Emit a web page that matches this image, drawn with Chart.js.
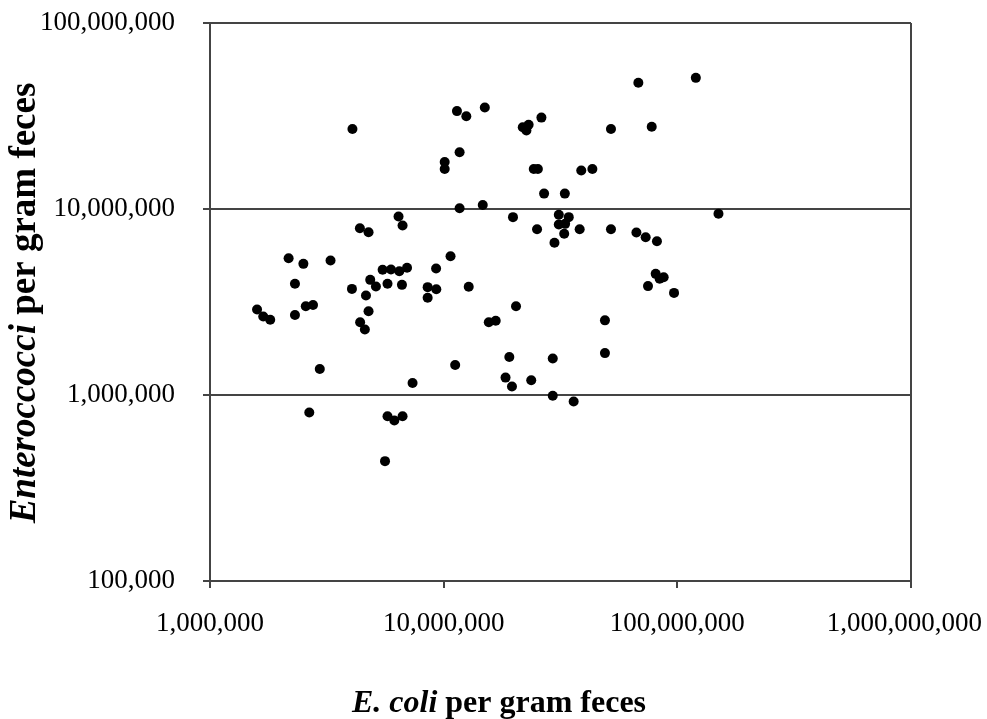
<!DOCTYPE html>
<html>
<head>
<meta charset="utf-8">
<script src="https://cdn.jsdelivr.net/npm/chart.js@4.4.0/dist/chart.umd.min.js"></script>
<style>
  html, body { margin: 0; padding: 0; background: #fff; }
  #wrap { width: 987px; height: 719px; }
</style>
</head>
<body>
<div id="wrap"><canvas id="chart" width="987" height="719"></canvas></div>
<script>
// counts per gram feces, one entry per sample
const ecoli = [
    1.59e6, 1.69e6, 1.81e6, 2.17e6, 2.31e6, 2.31e6, 2.51e6, 2.57e6, 2.76e6, 3.28e6,
    2.95e6, 2.66e6, 4.05e6, 4.65e6, 4.85e6, 5.13e6, 5.75e6, 5.48e6, 5.95e6, 6.46e6,
    6.97e6, 6.63e6, 4.77e6, 4.39e6, 4.60e6, 5.75e6, 6.15e6, 6.67e6, 5.61e6, 4.07e6,
    4.38e6, 4.77e6, 6.41e6, 6.67e6, 9.28e6, 1.07e7, 8.54e6, 9.30e6, 8.54e6, 1.28e7,
    1.12e7, 7.36e6, 1.14e7, 1.25e7, 1.17e7, 1.01e7, 1.01e7, 1.17e7, 1.50e7, 2.18e7,
    2.31e7, 2.26e7, 2.62e7, 2.43e7, 2.53e7, 3.88e7, 4.33e7, 2.69e7, 3.30e7, 1.47e7,
    1.98e7, 3.11e7, 3.43e7, 3.11e7, 3.31e7, 3.28e7, 3.82e7, 2.51e7, 2.98e7, 2.04e7,
    1.56e7, 1.67e7, 1.91e7, 2.93e7, 1.84e7, 1.96e7, 2.37e7, 2.93e7, 3.60e7, 6.81e7,
    1.20e8, 5.20e7, 7.77e7, 1.50e8, 5.20e7, 6.68e7, 7.32e7, 8.18e7, 8.08e7, 8.74e7,
    8.40e7, 7.49e7, 9.68e7, 4.90e7, 4.90e7
];
const entero = [
    2.88e6, 2.64e6, 2.54e6, 5.44e6, 3.96e6, 2.69e6, 5.07e6, 3.00e6, 3.05e6, 5.29e6,
    1.38e6, 8.05e5, 3.72e6, 3.43e6, 4.16e6, 3.83e6, 3.96e6, 4.71e6, 4.73e6, 4.63e6,
    4.83e6, 3.91e6, 2.82e6, 2.46e6, 2.25e6, 7.69e5, 7.29e5, 7.69e5, 4.41e5, 2.69e7,
    7.88e6, 7.50e6, 9.11e6, 8.15e6, 4.79e6, 5.57e6, 3.80e6, 3.70e6, 3.33e6, 3.82e6,
    1.45e6, 1.16e6, 3.36e7, 3.15e7, 2.02e7, 1.79e7, 1.64e7, 1.01e7, 3.51e7, 2.75e7,
    2.84e7, 2.64e7, 3.10e7, 1.64e7, 1.64e7, 1.61e7, 1.64e7, 1.21e7, 1.21e7, 1.05e7,
    9.04e6, 9.31e6, 9.04e6, 8.26e6, 8.32e6, 7.36e6, 7.79e6, 7.79e6, 6.58e6, 3.00e6,
    2.46e6, 2.51e6, 1.60e6, 1.57e6, 1.24e6, 1.11e6, 1.20e6, 9.90e5, 9.23e5, 4.77e7,
    5.07e7, 2.69e7, 2.77e7, 9.42e6, 7.79e6, 7.48e6, 7.05e6, 6.71e6, 4.48e6, 4.30e6,
    4.22e6, 3.85e6, 3.54e6, 2.52e6, 1.68e6
];
const xTickValues = [1e6, 1e7, 1e8, 1e9];
const xTickLabels = ['1,000,000', '10,000,000', '100,000,000', '1,000,000,000'];
const yTickValues = [1e5, 1e6, 1e7, 1e8];
const yTickLabels = ['100,000', '1,000,000', '10,000,000', '100,000,000'];

const lineColor = '#444';
const serif = '"Liberation Serif", "Times New Roman", serif';

// draws a title made of bold / bold-italic pieces, centred on the origin
function drawParts(ctx, parts, size) {
    const fonts = parts.map(p => (p.italic ? 'italic ' : '') + 'bold ' + size + 'px ' + serif);
    let total = 0;
    const widths = parts.map((p, i) => {
        ctx.font = fonts[i];
        const w = ctx.measureText(p.text).width;
        total += w;
        return w;
    });
    let x = -total / 2;
    parts.forEach((p, i) => {
        ctx.font = fonts[i];
        ctx.fillText(p.text, x, 0);
        x += widths[i];
    });
}

const axisTitles = {
    id: 'axisTitles',
    afterDraw(chart) {
        const ctx = chart.ctx;
        ctx.save();
        ctx.fillStyle = '#000';
        ctx.textAlign = 'left';
        ctx.textBaseline = 'alphabetic';
        ctx.translate(499, 712);
        drawParts(ctx, [{ text: 'E. coli', italic: true }, { text: ' per gram feces' }], 32);
        ctx.restore();

        ctx.save();
        ctx.fillStyle = '#000';
        ctx.textAlign = 'left';
        ctx.textBaseline = 'alphabetic';
        ctx.translate(35, 303);
        ctx.rotate(-Math.PI / 2);
        drawParts(ctx, [{ text: 'Enteroccocci', italic: true }, { text: ' per gram feces' }], 37);
        ctx.restore();
    }
};

new Chart(document.getElementById('chart'), {
    type: 'scatter',
    data: {
        datasets: [{
            data: ecoli.map((x, i) => ({ x: x, y: entero[i] })),
            backgroundColor: '#000',
            borderWidth: 0,
            pointRadius: 5,
            pointHoverRadius: 5
        }]
    },
    options: {
        responsive: false,
        animation: false,
        devicePixelRatio: 1,
        layout: { padding: { top: 23, right: 76, left: 0, bottom: 0 } },
        plugins: {
            legend: { display: false },
            tooltip: { enabled: false }
        },
        scales: {
            x: {
                type: 'logarithmic',
                min: 1e6,
                max: 1e9,
                afterBuildTicks: s => { s.ticks = xTickValues.map(v => ({ value: v })); },
                afterFit: s => { s.height = 138; s.paddingLeft = 0; s.paddingRight = 0; },
                ticks: {
                    autoSkip: false,
                    maxRotation: 0,
                    padding: 20,
                    color: '#000',
                    font: { family: serif, size: 27 },
                    callback: v => {
                        const i = xTickValues.indexOf(v);
                        // last label sits a little left of its tick, like the original
                        return i === xTickValues.length - 1 ? xTickLabels[i] + '  ' : xTickLabels[i];
                    }
                },
                grid: {
                    color: ctx => (ctx.tick && ctx.tick.value === 1e9 ? lineColor : 'rgba(0,0,0,0)'),
                    tickColor: lineColor,
                    lineWidth: 2,
                    tickLength: 7
                },
                border: { display: true, color: lineColor, width: 2 }
            },
            y: {
                type: 'logarithmic',
                min: 1e5,
                max: 1e8,
                afterBuildTicks: s => { s.ticks = yTickValues.map(v => ({ value: v })); },
                afterFit: s => { s.width = 210; s.paddingTop = 0; s.paddingBottom = 0; },
                ticks: {
                    autoSkip: false,
                    padding: 28,
                    color: '#000',
                    font: { family: serif, size: 27 },
                    callback: v => yTickLabels[yTickValues.indexOf(v)]
                },
                grid: {
                    color: lineColor,
                    tickColor: lineColor,
                    lineWidth: 2,
                    tickLength: 7
                },
                border: { display: true, color: lineColor, width: 2 }
            }
        }
    },
    plugins: [axisTitles]
});
</script>
</body>
</html>
